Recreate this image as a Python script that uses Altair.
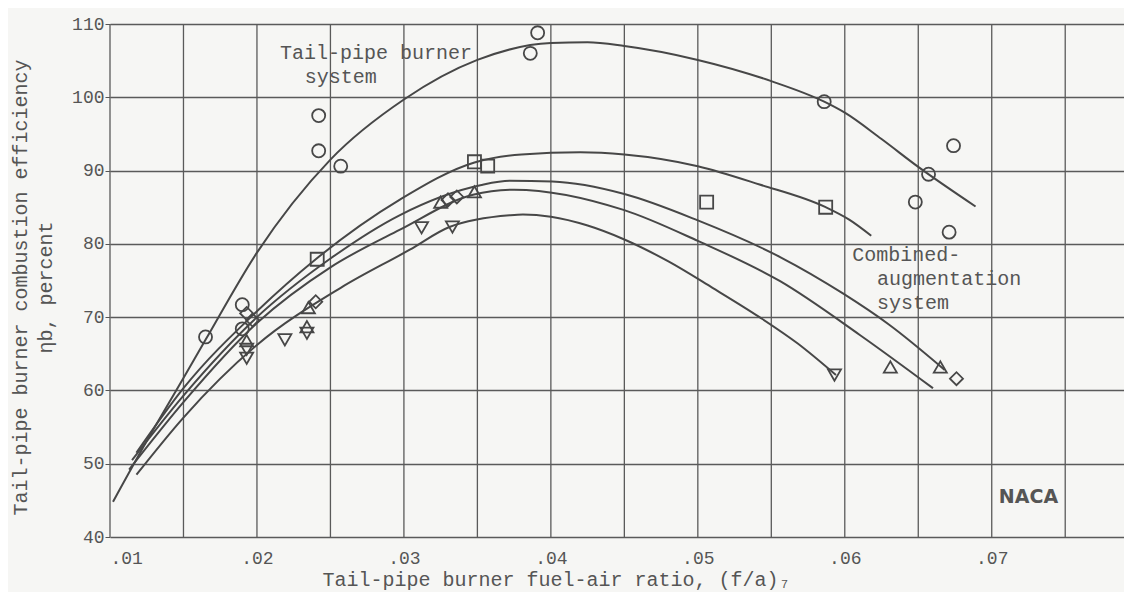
import altair as alt
import pandas as pd

# ---------------- data ----------------
# Faired curves
tail_x = [0.0102, 0.0125, 0.015, 0.0165, 0.020, 0.025, 0.030, 0.035, 0.040, 0.0425, 0.045, 0.050, 0.055, 0.0586, 0.060, 0.0625, 0.065, 0.0689]
tail_y = [44.8, 53.1, 61.7, 66.9, 78.8, 91.5, 99.7, 105.1, 107.4, 107.5, 107.0, 105.1, 102.2, 99.4, 97.9, 94.3, 90.5, 85.1]

sq_x = [0.0118, 0.015, 0.020, 0.024, 0.0297, 0.0348, 0.038, 0.042, 0.045, 0.050, 0.0542, 0.0587, 0.0603, 0.0618]
sq_y = [51.5, 60.3, 70.8, 77.9, 86.0, 91.1, 92.2, 92.5, 92.2, 90.6, 88.1, 85.0, 83.3, 81.1]

a_x = [0.0115, 0.015, 0.020, 0.025, 0.0297, 0.0352, 0.0372, 0.0401, 0.045, 0.050, 0.0556, 0.0599, 0.063, 0.0668]
a_y = [50.5, 59.3, 70.0, 78.0, 83.9, 88.0, 88.6, 88.5, 86.8, 83.2, 78.2, 73.2, 69.0, 62.8]

b_x = [0.0113, 0.015, 0.020, 0.025, 0.0297, 0.0347, 0.0375, 0.045, 0.050, 0.0556, 0.061, 0.066]
b_y = [49.2, 58.4, 69.2, 76.8, 81.9, 86.7, 87.4, 84.6, 80.4, 74.9, 67.6, 60.3]

c_x = [0.0118, 0.015, 0.020, 0.0257, 0.0304, 0.0331, 0.0372, 0.0381, 0.040, 0.0425, 0.045, 0.048, 0.051, 0.0542, 0.0568, 0.0594]
c_y = [48.5, 56.3, 66.2, 74.0, 79.2, 82.3, 83.9, 84.0, 83.7, 82.5, 80.6, 77.6, 74.0, 70.0, 66.4, 62.1]

# Test points
circ_x = [0.0165, 0.0190, 0.0190, 0.0242, 0.0242, 0.0257, 0.0386, 0.0391, 0.0586, 0.0674, 0.0657, 0.0648, 0.0671]
circ_y = [67.3, 71.7, 68.4, 97.5, 92.7, 90.6, 106.0, 108.8, 99.4, 93.4, 89.5, 85.7, 81.6]

sqr_x = [0.0241, 0.0348, 0.0357, 0.0506, 0.0587]
sqr_y = [77.9, 91.2, 90.6, 85.7, 85.0]

dia_x = [0.0193, 0.0197, 0.0240, 0.0330, 0.0336, 0.0676]
dia_y = [70.5, 69.6, 72.1, 86.0, 86.4, 61.6]

up_x = [0.0193, 0.0235, 0.0234, 0.0325, 0.0348, 0.0631, 0.0665]
up_y = [66.8, 71.3, 68.7, 85.7, 87.1, 63.2, 63.2]

dn_x = [0.0193, 0.0193, 0.0219, 0.0234, 0.0312, 0.0333, 0.0593]
dn_y = [65.6, 64.4, 66.9, 67.8, 82.2, 82.3, 62.1]

x_grid = [0.010, 0.015, 0.020, 0.025, 0.030, 0.035, 0.040, 0.045, 0.050, 0.055, 0.060, 0.065, 0.070, 0.075]
x_ticks = [0.01, 0.02, 0.03, 0.04, 0.05, 0.06, 0.07]
y_ticks = [40, 50, 60, 70, 80, 90, 100, 110]

# ---------------- tables ----------------
curves = pd.concat([
    pd.DataFrame({"x": tail_x, "y": tail_y, "c": "tail"}),
    pd.DataFrame({"x": sq_x, "y": sq_y, "c": "sq"}),
    pd.DataFrame({"x": a_x, "y": a_y, "c": "a"}),
    pd.DataFrame({"x": b_x, "y": b_y, "c": "b"}),
    pd.DataFrame({"x": c_x, "y": c_y, "c": "c"}),
])
curves["o"] = range(len(curves))

pts = pd.concat([
    pd.DataFrame({"x": circ_x, "y": circ_y, "k": "circle"}),
    pd.DataFrame({"x": sqr_x, "y": sqr_y, "k": "square"}),
    pd.DataFrame({"x": dia_x, "y": dia_y, "k": "diamond"}),
    pd.DataFrame({"x": up_x, "y": up_y, "k": "up"}),
    pd.DataFrame({"x": dn_x, "y": dn_y, "k": "down"}),
])

grid_df = pd.DataFrame({"x": x_grid})

lab_c = pd.DataFrame({"x": [0.0281, 0.0257], "y": [106.0, 102.7],
                      "t": ["Tail-pipe burner", "system"]})
lab_l = pd.DataFrame({"x": [0.0605, 0.0622, 0.0622], "y": [78.5, 75.2, 71.9],
                      "t": ["Combined-", "augmentation", "system"]})
logo = pd.DataFrame({"x": [0.0725], "y": [45.4], "t": ["NACA"]})

FONT = "Liberation Mono"
INK = "#474747"
GRID = "#5a5a5a"

xs = alt.Scale(domain=[0.01, 0.079], nice=False, zero=False)
ys = alt.Scale(domain=[40, 110], nice=False, zero=False)

x_axis = alt.Axis(
    values=x_ticks,
    labelExpr="replace(format(datum.value, '.2f'), '0.', '.')",
    title="Tail-pipe burner fuel-air ratio, (f/a)₇",
    grid=False, ticks=False, labelPadding=12, domain=False,
    titleX=446, titleY=42, titleAlign="center", titleBaseline="middle",
)
y_axis = alt.Axis(
    values=y_ticks,
    title=["Tail-pipe burner combustion efficiency", "ηb, percent"],
    grid=True, tickSize=5, tickColor="#555", labelPadding=1, domain=False,
    titleAngle=270, titleX=-100, titleY=263, titleAlign="center", titleBaseline="top",
    titleLineHeight=25,
)

vgrid = alt.Chart(grid_df).mark_rule(color=GRID, strokeWidth=1.3).encode(
    x=alt.X("x:Q", scale=xs, axis=x_axis),
)

lines = alt.Chart(curves).mark_line(interpolate="monotone", color=INK, strokeWidth=2).encode(
    x=alt.X("x:Q", scale=xs, axis=x_axis),
    y=alt.Y("y:Q", scale=ys, axis=y_axis),
    detail="c:N",
    order="o:Q",
)

points = alt.Chart(pts).mark_point(filled=False, color=INK, strokeWidth=1.8, opacity=1).encode(
    x=alt.X("x:Q", scale=xs),
    y=alt.Y("y:Q", scale=ys),
    shape=alt.Shape("k:N", scale=alt.Scale(
        domain=["circle", "square", "diamond", "up", "down"],
        range=["circle", "square", "diamond", "triangle-up", "triangle-down"]), legend=None),
    size=alt.Size("k:N", scale=alt.Scale(
        domain=["circle", "square", "diamond", "up", "down"],
        range=[170, 170, 230, 200, 200]), legend=None),
)

txt_c = alt.Chart(lab_c).mark_text(font=FONT, fontSize=20, color="#555", align="center", baseline="middle").encode(
    x=alt.X("x:Q", scale=xs), y=alt.Y("y:Q", scale=ys), text="t:N")
txt_l = alt.Chart(lab_l).mark_text(font=FONT, fontSize=20, color="#555", align="left", baseline="middle").encode(
    x=alt.X("x:Q", scale=xs), y=alt.Y("y:Q", scale=ys), text="t:N")
txt_logo = alt.Chart(logo).mark_text(font="DejaVu Sans", fontSize=19, fontWeight="bold", color="#555",
                                     align="center", baseline="middle").encode(
    x=alt.X("x:Q", scale=xs), y=alt.Y("y:Q", scale=ys), text="t:N")

chart = alt.layer(vgrid, lines, points, txt_c, txt_l, txt_logo).properties(
    width=1014, height=513,
    autosize=alt.AutoSizeParams(type="none"),
    padding={"left": 102, "top": 16, "right": 0, "bottom": 58},
    background="#f6f6f4",
).configure_view(stroke=None).configure_axis(
    gridColor=GRID, gridWidth=1.3, gridOpacity=1,
    labelFont=FONT, labelFontSize=18, labelColor="#555",
    titleFont=FONT, titleFontSize=20, titleColor="#555", titleFontWeight="normal",
)

chart.save("out.html", embed_options={"renderer": "svg", "actions": False})
